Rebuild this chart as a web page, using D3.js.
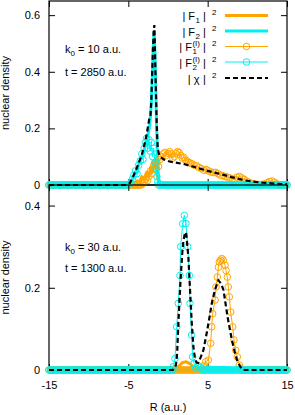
<!DOCTYPE html>
<html>
<head>
<meta charset="utf-8">
<script src="https://cdn.jsdelivr.net/npm/d3@7"></script>
<style>
    body { margin: 0; background: #fff; }
    svg text { font-family: "Liberation Sans", Arial, sans-serif; font-size: 11px; fill: #000; }
</style>
</head>
<body>
<div class="chart"></div>
<script>
"use strict";

// ---- data: [R (a.u.), density] ----

// upper panel, k0 = 10 a.u., t = 2850 a.u.
const top_F1 = [[-15,0],[-4.5,0],[-4.2,0.006],[-3.9,0.015],[-3.6,0.01],[-3.3,0.03],[-3.0,0.02],[-2.7,0.045],[-2.4,0.03],[-2.2,0.062],[-2.0,0.05],[-1.85,0.085],[-1.7,0.06],[-1.55,0.092],[-1.4,0.045],[-1.25,0.02],[-1.1,0],[15,0]];
const top_F2 = [[-15,0],[-4.9,0],[-4.5,0.02],[-4,0.05],[-3.5,0.085],[-3,0.125],[-2.6,0.165],[-2.3,0.21],[-2.1,0.29],[-1.95,0.41],[-1.85,0.49],[-1.75,0.54],[-1.65,0.47],[-1.55,0.35],[-1.45,0.22],[-1.35,0.12],[-1.25,0.05],[-1.15,0.01],[-1.05,0],[15,0]];
const top_FI1 = [[-15,0],[-3.2,0.005],[-3.0,0.01],[-2.8,0.02],[-2.6,0.015],[-2.4,0.03],[-2.2,0.05],[-2.0,0.04],[-1.8,0.07],[-1.6,0.055],[-1.4,0.08],[-1.2,0.065],[-1.0,0.09],[-0.8,0.1],[-0.6,0.11],[-0.4,0.115],[-0.2,0.105],[0,0.112],[0.2,0.118],[0.4,0.11],[0.6,0.095],[0.8,0.1],[1.0,0.112],[1.2,0.118],[1.4,0.115],[1.6,0.105],[1.8,0.095],[2.0,0.098],[2.2,0.088],[2.4,0.085],[2.6,0.08],[2.8,0.078],[3.0,0.075],[3.3,0.07],[3.6,0.068],[3.9,0.062],[4.2,0.058],[4.5,0.052],[4.8,0.055],[5.1,0.05],[5.4,0.046],[5.7,0.044],[6.0,0.045],[6.3,0.04],[6.6,0.035],[6.9,0.033],[7.2,0.03],[7.5,0.028],[7.8,0.025],[8.1,0.022],[8.4,0.02],[8.7,0.028],[9.0,0.03],[9.3,0.025],[9.6,0.02],[9.9,0.014],[10.2,0.01],[10.5,0.006],[10.8,0.004],[11.1,0.003],[11.5,0.002],[12,0.003],[12.5,0.008],[12.8,0.012],[13.1,0.014],[13.4,0.01],[13.7,0.004],[14,0],[15,0]];
const top_FI2 = [[-15,0],[-4.9,0.002],[-4.7,0.008],[-4.5,0.02],[-4.3,0.035],[-4.1,0.05],[-3.9,0.04],[-3.7,0.07],[-3.5,0.085],[-3.3,0.11],[-3.15,0.09],[-3.0,0.13],[-2.85,0.15],[-2.7,0.165],[-2.55,0.13],[-2.4,0.16],[-2.25,0.12],[-2.1,0.15],[-1.95,0.1],[-1.8,0.13],[-1.65,0.08],[-1.5,0.06],[-1.4,0.03],[-1.3,0.01],[-1.2,0],[15,0]];
const top_chi = [[-15,0],[-5.3,0],[-4.8,0.007],[-4.4,0.03],[-3.95,0.059],[-3.6,0.085],[-3.3,0.106],[-3.0,0.14],[-2.7,0.177],[-2.5,0.21],[-2.35,0.236],[-2.2,0.247],[-2.1,0.3],[-2.0,0.39],[-1.9,0.48],[-1.8,0.545],[-1.72,0.565],[-1.6,0.424],[-1.5,0.307],[-1.42,0.212],[-1.3,0.131],[-1.15,0.11],[-1.0,0.1],[-0.5,0.09],[0.2,0.083],[1,0.079],[2,0.074],[3,0.066],[4,0.058],[5,0.05],[6,0.043],[7,0.036],[8,0.028],[9,0.021],[10,0.015],[11,0.011],[12,0.008],[13,0.006],[14,0.004],[15,0.003]];

// lower panel, k0 = 30 a.u., t = 1300 a.u.
const bot_F1 = [[-15,0],[0.8,0],[1.3,0.008],[1.8,0.018],[2.3,0.02],[2.8,0.015],[3.3,0.005],[3.6,0],[15,0]];
const bot_F2 = [[-15,0],[3.2,0],[3.6,0.006],[4.2,0.004],[5,0.008],[6,0.005],[7,0.006],[8,0.003],[9,0],[15,0]];
const bot_FI1 = [[-15,0],[4.3,0],[4.5,0.01],[4.75,0.02],[5.08,0.024],[5.38,0.065],[5.51,0.105],[5.63,0.137],[5.93,0.17],[6.05,0.202],[6.22,0.226],[6.35,0.25],[6.47,0.263],[6.64,0.267],[6.77,0.271],[6.97,0.267],[7.19,0.255],[7.31,0.242],[7.48,0.226],[7.6,0.202],[7.73,0.178],[7.9,0.141],[8.15,0.105],[8.32,0.073],[8.53,0.048],[8.74,0.032],[8.99,0.012],[9.2,0.004],[9.4,0],[15,0]];
const bot_FI2 = [[-15,0],[0.5,0],[0.67,0.008],[0.88,0.028],[1.1,0.105],[1.3,0.162],[1.51,0.23],[1.6,0.3],[1.85,0.356],[2.06,0.376],[2.27,0.356],[2.48,0.3],[2.69,0.23],[2.77,0.162],[2.98,0.085],[3.1,0.032],[3.28,0.016],[3.5,0.005],[3.8,0.01],[4.1,0.006],[4.4,0.002],[4.7,0],[15,0]];
const bot_chi = [[-15,0],[0.6,0],[0.8,0.004],[1.0,0.012],[1.15,0.04],[1.3,0.11],[1.45,0.17],[1.6,0.225],[1.8,0.285],[1.95,0.315],[2.1,0.33],[2.28,0.335],[2.45,0.3],[2.57,0.275],[2.78,0.194],[3.0,0.113],[3.2,0.057],[3.4,0.026],[3.6,0.018],[3.8,0.017],[4.1,0.03],[4.46,0.048],[4.88,0.09],[5.2,0.125],[5.5,0.16],[5.9,0.194],[6.35,0.218],[6.7,0.21],[7.0,0.194],[7.5,0.13],[8.05,0.073],[8.4,0.045],[8.7,0.024],[9.1,0.008],[9.5,0],[15,0]];

// grid on which the F^(I) points are printed where they lie on zero
const marker_grid = d3.range(-15, 15.001, 0.2);

const x_ticks = [-15, -5, 5, 15];
const top_y_ticks = [0, 0.2, 0.4, 0.6];
const bot_y_ticks = [0, 0.2, 0.4];

const top_notes = [["k", "0", " = 10 a.u."], ["t = 2850 a.u."]];
const bot_notes = [["k", "0", " = 30 a.u."], ["t = 1300 a.u."]];

// legend labels: symbol, superscript over it, subscript under it
const legend_labels = [
    { sym: "F", sup: "", sub: "1" },
    { sym: "F", sup: "", sub: "2" },
    { sym: "F", sup: "(I)", sub: "1" },
    { sym: "F", sup: "(I)", sub: "2" },
    { sym: "\u03c7", sup: "", sub: "" }
];

window.onload = () => main();

function main() {
    const config = {
        width: 295,
        height: 415,
        left: 49,
        right: 287,
        orange: "#ffa500",
        cyan: "#00f0f0"
    };

    const svg = d3.select(".chart")
        .append("svg")
        .attr("width", config.width)
        .attr("height", config.height);

    const x = d3.scaleLinear().domain([-15, 15]).range([config.left, config.right]);

    const panels = [
        { y: d3.scaleLinear().domain([0, 0.65]).range([185, 1]), ticks: top_y_ticks, notes: top_notes, note_y: [53, 76],
          F1: top_F1, F2: top_F2, FI1: top_FI1, FI2: top_FI2, chi: top_chi },
        { y: d3.scaleLinear().domain([0, 0.45]).range([370, 185]), ticks: bot_y_ticks, notes: bot_notes, note_y: [251, 272],
          F1: bot_F1, F2: bot_F2, FI1: bot_FI1, FI2: bot_FI2, chi: bot_chi }
    ];

    panels.forEach((p, i) => draw_panel(svg, x, p, config, i === 1));
    draw_legend(svg, config);

    svg.append("text")
        .attr("x", (config.left + config.right) / 2)
        .attr("y", 411)
        .attr("text-anchor", "middle")
        .text("R (a.u.)");
}

function draw_panel(svg, x, p, config, is_bottom) {
    const y = p.y;
    const [y0, y1] = y.range();
    const g = svg.append("g");

    // frame
    g.append("rect")
        .attr("x", config.left).attr("y", y1)
        .attr("width", config.right - config.left).attr("height", y0 - y1)
        .attr("fill", "none").attr("stroke", "#000").attr("stroke-width", 1.2);

    const font = "Liberation Sans, Arial, sans-serif";
    const left_axis = g.append("g")
        .attr("transform", `translate(${config.left},0)`)
        .call(d3.axisLeft(y).tickValues(p.ticks).tickSize(-6).tickPadding(9)
            .tickFormat(d => d === 0 ? "0" : d3.format(".1f")(d)));
    const right_axis = g.append("g")
        .attr("transform", `translate(${config.right},0)`)
        .call(d3.axisRight(y).tickValues(p.ticks).tickSize(-6).tickFormat(""));
    const bottom_axis = g.append("g")
        .attr("transform", `translate(0,${y0})`)
        .call(d3.axisBottom(x).tickValues(x_ticks).tickSize(-6).tickPadding(11)
            .tickFormat(d => is_bottom ? String(d) : ""));
    const top_axis = g.append("g")
        .attr("transform", `translate(0,${y1})`)
        .call(d3.axisTop(x).tickValues(x_ticks).tickSize(-6).tickFormat(""));
    [left_axis, right_axis, bottom_axis, top_axis].forEach(a => {
        a.attr("font-size", 11).attr("font-family", font);
        a.select(".domain").remove();
        a.selectAll("line").attr("stroke-width", 1);
    });

    // notes
    p.notes.forEach((n, k) => {
        const t = g.append("text").attr("x", 65).attr("y", p.note_y[k]);
        if (n.length === 3) {
            t.append("tspan").text(n[0]);
            t.append("tspan").attr("dy", 3).style("font-size", "8px").text(n[1]);
            t.append("tspan").attr("dy", -3).text(n[2]);
        } else {
            t.text(n[0]);
        }
    });

    const line = d3.line().x(d => x(d[0])).y(d => y(d[1]));

    // |F1|^2 and |F2|^2
    g.append("path").datum(p.F1).attr("d", line)
        .attr("fill", "none").attr("stroke", config.orange).attr("stroke-width", 3)
        .attr("stroke-linejoin", "round").attr("stroke-linecap", "round");
    g.append("path").datum(p.F2).attr("d", line)
        .attr("fill", "none").attr("stroke", config.cyan).attr("stroke-width", 3)
        .attr("stroke-linejoin", "round").attr("stroke-linecap", "round");

    // |F^(I)|^2 with open circles
    [[p.FI1, config.orange], [p.FI2, config.cyan]].forEach(([series, color]) => {
        const nonzero = series.filter(d => d[1] > 0);
        const lo = d3.min(nonzero, d => d[0]);
        const hi = d3.max(nonzero, d => d[0]);
        const on_zero = marker_grid.filter(r => r < lo || r > hi).map(r => [r, 0]);
        const points = nonzero.concat(on_zero);

        g.append("path").datum(series).attr("d", line)
            .attr("fill", "none").attr("stroke", color).attr("stroke-width", 1);
        g.append("g").selectAll("circle")
            .data(points)
            .enter()
            .append("circle")
            .attr("cx", d => x(d[0]))
            .attr("cy", d => y(d[1]))
            .attr("r", 3.3)
            .attr("fill", "none")
            .attr("stroke", color)
            .attr("stroke-width", 1);
    });

    // |chi|^2
    g.append("path").datum(p.chi).attr("d", line)
        .attr("fill", "none").attr("stroke", "#000").attr("stroke-width", 2.2)
        .attr("stroke-dasharray", "5,3");

    // y label
    g.append("text")
        .attr("transform", `translate(9,${(y0 + y1) / 2}) rotate(-90)`)
        .attr("text-anchor", "middle")
        .text("nuclear density");
}

function draw_legend(svg, config) {
    const row_y = [15.5, 31, 46.5, 62, 78];
    const styles = [
        { color: config.orange, width: 3 },
        { color: config.cyan, width: 3 },
        { color: config.orange, width: 1, marker: true },
        { color: config.cyan, width: 1, marker: true },
        { color: "#000", width: 2.2, dash: "5,3" }
    ];
    const g = svg.append("g");
    const close_bar_x = 203;

    legend_labels.forEach((lab, i) => {
        const yy = row_y[i];
        const base = yy + 4.5;
        const row = g.append("g");

        // right to left: ^2, closing bar, scripts, symbol, opening bar
        row.append("text").attr("x", close_bar_x + 9).attr("y", base - 5)
            .style("font-size", "8px").text("2");
        row.append("text").attr("x", close_bar_x).attr("y", base).text("|");

        const sub = row.append("text").attr("y", base + 3).style("font-size", "8px").text(lab.sub);
        const sup = row.append("text").attr("y", base - 5).style("font-size", "8px").text(lab.sup);
        const script_w = Math.max(sub.node().getComputedTextLength(), sup.node().getComputedTextLength());
        const script_x = close_bar_x - 3 - script_w;
        sub.attr("x", script_x);
        sup.attr("x", script_x);

        const sym = row.append("text").attr("y", base).attr("text-anchor", "end")
            .attr("x", script_x - 0.5).text(lab.sym);
        const bar_x = script_x - 0.5 - sym.node().getComputedTextLength() - 3;
        row.append("text").attr("y", base).attr("text-anchor", "end")
            .attr("x", bar_x).text("|");

        const s = styles[i];
        g.append("line")
            .attr("x1", 225).attr("x2", 268)
            .attr("y1", yy).attr("y2", yy)
            .attr("stroke", s.color).attr("stroke-width", s.width)
            .attr("stroke-dasharray", s.dash || null);
        if (s.marker) {
            g.append("circle")
                .attr("cx", 246.5).attr("cy", yy).attr("r", 3.3)
                .attr("fill", "none").attr("stroke", s.color).attr("stroke-width", 1);
        }
    });
}
</script>
</body>
</html>
